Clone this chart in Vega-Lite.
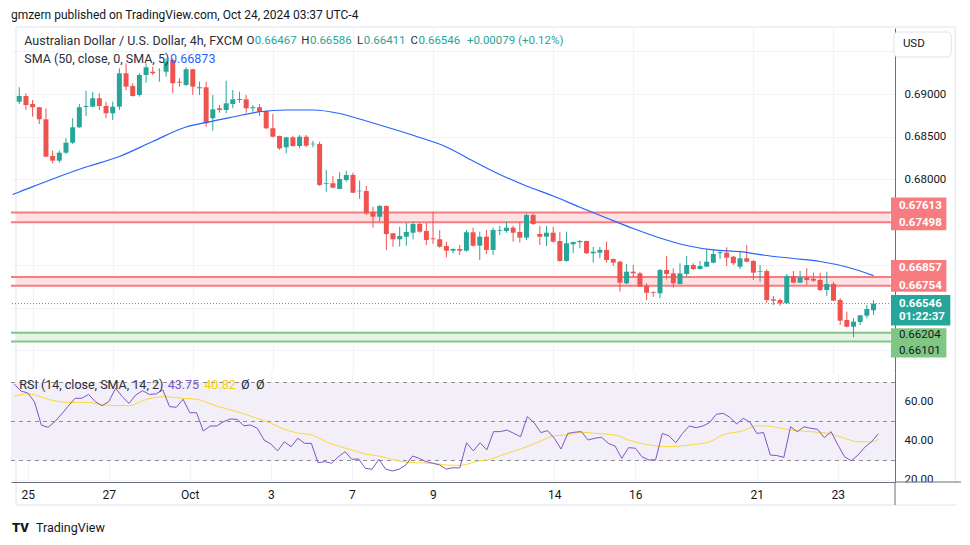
{
"$schema":"https://vega.github.io/schema/vega-lite/v6.json",
"background":"white",
"padding":{"left":10,"top":9,"right":0,"bottom":0},
"title":{"text":"gmzern published on TradingView.com, Oct 24, 2024 03:37 UTC-4","anchor":"start","frame":"group","font":"Roboto","fontSize":12,"fontWeight":"normal","color":"#131722","offset":4},
"config":{"view":{"stroke":null},"font":"Roboto","axis":{"labelFont":"Roboto","labelColor":"#131722","domainColor":"#6b6e78","gridColor":"#f0f3fa","ticks":false,"tickSize":0}},
"spacing":0,
"bounds":"flush",
"datasets":{
"candles":[
{"i":0,"o":0.6891,"h":0.69079,"l":0.68883,"c":0.68977,"rsi":69.2},
{"i":1,"o":0.68977,"h":0.69008,"l":0.68813,"c":0.68871,"rsi":65.6},
{"i":2,"o":0.68883,"h":0.6893,"l":0.68734,"c":0.68845,"rsi":64.6},
{"i":3,"o":0.68845,"h":0.6885,"l":0.68649,"c":0.68704,"rsi":60.0},
{"i":4,"o":0.68704,"h":0.68833,"l":0.6826,"c":0.68266,"rsi":48.2},
{"i":5,"o":0.68274,"h":0.68336,"l":0.68189,"c":0.68219,"rsi":47.0},
{"i":6,"o":0.68219,"h":0.68336,"l":0.68196,"c":0.68313,"rsi":49.9},
{"i":7,"o":0.68313,"h":0.68482,"l":0.68298,"c":0.6843,"rsi":53.8},
{"i":8,"o":0.6843,"h":0.68716,"l":0.68415,"c":0.6861,"rsi":57.9},
{"i":9,"o":0.6861,"h":0.68883,"l":0.68605,"c":0.68845,"rsi":61.9},
{"i":10,"o":0.68848,"h":0.69039,"l":0.68743,"c":0.6886,"rsi":61.9},
{"i":11,"o":0.68852,"h":0.69024,"l":0.68845,"c":0.6895,"rsi":63.9},
{"i":12,"o":0.6895,"h":0.69008,"l":0.68813,"c":0.6886,"rsi":60.2},
{"i":13,"o":0.6886,"h":0.6891,"l":0.68716,"c":0.68774,"rsi":58.1},
{"i":14,"o":0.68774,"h":0.6891,"l":0.68696,"c":0.68852,"rsi":60.2},
{"i":15,"o":0.68852,"h":0.69301,"l":0.68813,"c":0.69243,"rsi":67.0},
{"i":16,"o":0.69243,"h":0.6936,"l":0.69047,"c":0.69086,"rsi":62.7},
{"i":17,"o":0.69094,"h":0.69126,"l":0.68969,"c":0.68977,"rsi":59.3},
{"i":18,"o":0.68989,"h":0.69243,"l":0.68969,"c":0.69223,"rsi":63.6},
{"i":19,"o":0.69223,"h":0.6936,"l":0.69133,"c":0.69313,"rsi":65.8},
{"i":20,"o":0.69261,"h":0.6932,"l":0.69223,"c":0.69243,"rsi":63.9},
{"i":21,"o":0.6927,"h":0.69301,"l":0.69144,"c":0.69273,"rsi":64.1},
{"i":22,"o":0.69261,"h":0.69418,"l":0.69203,"c":0.69378,"rsi":66.2},
{"i":23,"o":0.69398,"h":0.69418,"l":0.69008,"c":0.69126,"rsi":57.6},
{"i":24,"o":0.69144,"h":0.69184,"l":0.69086,"c":0.69133,"rsi":57.3},
{"i":25,"o":0.69106,"h":0.69313,"l":0.69094,"c":0.6929,"rsi":61.4},
{"i":26,"o":0.6929,"h":0.69295,"l":0.68989,"c":0.69086,"rsi":54.5},
{"i":27,"o":0.69067,"h":0.69144,"l":0.68989,"c":0.69079,"rsi":54.5},
{"i":28,"o":0.69079,"h":0.69144,"l":0.68617,"c":0.68657,"rsi":45.1},
{"i":29,"o":0.68716,"h":0.68989,"l":0.68571,"c":0.68821,"rsi":47.7},
{"i":30,"o":0.68833,"h":0.68871,"l":0.68781,"c":0.68813,"rsi":47.7},
{"i":31,"o":0.68813,"h":0.69156,"l":0.68774,"c":0.68891,"rsi":49.9},
{"i":32,"o":0.68883,"h":0.69047,"l":0.68833,"c":0.68938,"rsi":51.3},
{"i":33,"o":0.68942,"h":0.69027,"l":0.68898,"c":0.6893,"rsi":51.1},
{"i":34,"o":0.68938,"h":0.68989,"l":0.68781,"c":0.68833,"rsi":47.8},
{"i":35,"o":0.68833,"h":0.68871,"l":0.68793,"c":0.68845,"rsi":48.2},
{"i":36,"o":0.68845,"h":0.68883,"l":0.68743,"c":0.68793,"rsi":46.5},
{"i":37,"o":0.68801,"h":0.68805,"l":0.68587,"c":0.68599,"rsi":40.5},
{"i":38,"o":0.68599,"h":0.68766,"l":0.68493,"c":0.685,"rsi":38.5},
{"i":39,"o":0.68508,"h":0.68512,"l":0.68345,"c":0.68364,"rsi":34.9},
{"i":40,"o":0.68376,"h":0.685,"l":0.68306,"c":0.68493,"rsi":39.6},
{"i":41,"o":0.68493,"h":0.68508,"l":0.68383,"c":0.68391,"rsi":37.1},
{"i":42,"o":0.68391,"h":0.6852,"l":0.68364,"c":0.685,"rsi":41.4},
{"i":43,"o":0.685,"h":0.6852,"l":0.6838,"c":0.68395,"rsi":38.8},
{"i":44,"o":0.68411,"h":0.6845,"l":0.68376,"c":0.68418,"rsi":38.8},
{"i":45,"o":0.68415,"h":0.68442,"l":0.67923,"c":0.67935,"rsi":28.9},
{"i":46,"o":0.67946,"h":0.6811,"l":0.67856,"c":0.67955,"rsi":29.4},
{"i":47,"o":0.67955,"h":0.6804,"l":0.67896,"c":0.67903,"rsi":28.6},
{"i":48,"o":0.67888,"h":0.68083,"l":0.67885,"c":0.68005,"rsi":31.9},
{"i":49,"o":0.67993,"h":0.68102,"l":0.67973,"c":0.68052,"rsi":34.5},
{"i":50,"o":0.68052,"h":0.68079,"l":0.6784,"c":0.67844,"rsi":30.6},
{"i":51,"o":0.67861,"h":0.67985,"l":0.67771,"c":0.67868,"rsi":30.8},
{"i":52,"o":0.67864,"h":0.67923,"l":0.67583,"c":0.67603,"rsi":26.0},
{"i":53,"o":0.67622,"h":0.67681,"l":0.67435,"c":0.67563,"rsi":25.5},
{"i":54,"o":0.67563,"h":0.677,"l":0.67505,"c":0.67689,"rsi":30.6},
{"i":55,"o":0.67689,"h":0.67695,"l":0.67174,"c":0.67361,"rsi":25.6},
{"i":56,"o":0.67369,"h":0.67372,"l":0.67212,"c":0.67299,"rsi":24.6},
{"i":57,"o":0.67299,"h":0.67446,"l":0.67212,"c":0.67337,"rsi":25.5},
{"i":58,"o":0.67329,"h":0.67493,"l":0.67224,"c":0.67384,"rsi":27.7},
{"i":59,"o":0.67376,"h":0.67505,"l":0.67299,"c":0.67478,"rsi":32.3},
{"i":60,"o":0.67478,"h":0.67493,"l":0.67376,"c":0.67388,"rsi":31.1},
{"i":61,"o":0.67396,"h":0.67493,"l":0.67232,"c":0.67291,"rsi":29.4},
{"i":62,"o":0.6731,"h":0.67622,"l":0.67244,"c":0.67299,"rsi":28.6},
{"i":63,"o":0.67299,"h":0.67408,"l":0.672,"c":0.67212,"rsi":27.7},
{"i":64,"o":0.6722,"h":0.67271,"l":0.67088,"c":0.67165,"rsi":25.6},
{"i":65,"o":0.67165,"h":0.67193,"l":0.67135,"c":0.67185,"rsi":26.3},
{"i":66,"o":0.67185,"h":0.67232,"l":0.67115,"c":0.67165,"rsi":26.2},
{"i":67,"o":0.67165,"h":0.67408,"l":0.67154,"c":0.67381,"rsi":39.1},
{"i":68,"o":0.67381,"h":0.67435,"l":0.67212,"c":0.67224,"rsi":34.9},
{"i":69,"o":0.67224,"h":0.67388,"l":0.67056,"c":0.67329,"rsi":39.1},
{"i":70,"o":0.67329,"h":0.67408,"l":0.67127,"c":0.67174,"rsi":35.4},
{"i":71,"o":0.67174,"h":0.67435,"l":0.67115,"c":0.67408,"rsi":44.8},
{"i":72,"o":0.67399,"h":0.67455,"l":0.67349,"c":0.67408,"rsi":44.8},
{"i":73,"o":0.67396,"h":0.67505,"l":0.67376,"c":0.67435,"rsi":45.6},
{"i":74,"o":0.67435,"h":0.67458,"l":0.67271,"c":0.67376,"rsi":43.9},
{"i":75,"o":0.67384,"h":0.67505,"l":0.67259,"c":0.67318,"rsi":42.2},
{"i":76,"o":0.67318,"h":0.67603,"l":0.67291,"c":0.67583,"rsi":52.5},
{"i":77,"o":0.67583,"h":0.67603,"l":0.67466,"c":0.67478,"rsi":49.4},
{"i":78,"o":0.67361,"h":0.67455,"l":0.67232,"c":0.67329,"rsi":44.3},
{"i":79,"o":0.67329,"h":0.67455,"l":0.6722,"c":0.67376,"rsi":45.3},
{"i":80,"o":0.67376,"h":0.67446,"l":0.67259,"c":0.67271,"rsi":41.4},
{"i":81,"o":0.67279,"h":0.67384,"l":0.67039,"c":0.67045,"rsi":35.9},
{"i":82,"o":0.67045,"h":0.67388,"l":0.67036,"c":0.67252,"rsi":43.9},
{"i":83,"o":0.6724,"h":0.67271,"l":0.67135,"c":0.67267,"rsi":44.5},
{"i":84,"o":0.67264,"h":0.67291,"l":0.67193,"c":0.67279,"rsi":44.8},
{"i":85,"o":0.67279,"h":0.67283,"l":0.67127,"c":0.67135,"rsi":40.5},
{"i":86,"o":0.67135,"h":0.67209,"l":0.67025,"c":0.67154,"rsi":41.4},
{"i":87,"o":0.67142,"h":0.67209,"l":0.67076,"c":0.67174,"rsi":41.9},
{"i":88,"o":0.67174,"h":0.67271,"l":0.67025,"c":0.67056,"rsi":38.8},
{"i":89,"o":0.67068,"h":0.67074,"l":0.66986,"c":0.67025,"rsi":37.4},
{"i":90,"o":0.67036,"h":0.67048,"l":0.66685,"c":0.66791,"rsi":31.1},
{"i":91,"o":0.66784,"h":0.67009,"l":0.66775,"c":0.66919,"rsi":36.6},
{"i":92,"o":0.66919,"h":0.66998,"l":0.66854,"c":0.669,"rsi":36.3},
{"i":93,"o":0.669,"h":0.66919,"l":0.6674,"c":0.66744,"rsi":31.9},
{"i":94,"o":0.66752,"h":0.66784,"l":0.66588,"c":0.66673,"rsi":30.3},
{"i":95,"o":0.66682,"h":0.66688,"l":0.66626,"c":0.66673,"rsi":30.3},
{"i":96,"o":0.66666,"h":0.66951,"l":0.66608,"c":0.66939,"rsi":43.9},
{"i":97,"o":0.66939,"h":0.67103,"l":0.6683,"c":0.66892,"rsi":42.6},
{"i":98,"o":0.669,"h":0.66959,"l":0.66732,"c":0.66784,"rsi":39.1},
{"i":99,"o":0.66775,"h":0.67018,"l":0.6677,"c":0.669,"rsi":43.9},
{"i":100,"o":0.66892,"h":0.67103,"l":0.66869,"c":0.66998,"rsi":47.7},
{"i":101,"o":0.66998,"h":0.67018,"l":0.66939,"c":0.66951,"rsi":46.8},
{"i":102,"o":0.66951,"h":0.67045,"l":0.66945,"c":0.66986,"rsi":47.7},
{"i":103,"o":0.66978,"h":0.67182,"l":0.66974,"c":0.67036,"rsi":49.4},
{"i":104,"o":0.67025,"h":0.67182,"l":0.67018,"c":0.67127,"rsi":53.7},
{"i":105,"o":0.67135,"h":0.67165,"l":0.67068,"c":0.67147,"rsi":54.2},
{"i":106,"o":0.67142,"h":0.67205,"l":0.66986,"c":0.67083,"rsi":52.2},
{"i":107,"o":0.67095,"h":0.67103,"l":0.66998,"c":0.67018,"rsi":48.7},
{"i":108,"o":0.66978,"h":0.67154,"l":0.66951,"c":0.67076,"rsi":51.6},
{"i":109,"o":0.67076,"h":0.67232,"l":0.67033,"c":0.67036,"rsi":49.6},
{"i":110,"o":0.67045,"h":0.67056,"l":0.66822,"c":0.66908,"rsi":43.9},
{"i":111,"o":0.66919,"h":0.66998,"l":0.66802,"c":0.66927,"rsi":44.3},
{"i":112,"o":0.66927,"h":0.66947,"l":0.66556,"c":0.66588,"rsi":32.8},
{"i":113,"o":0.66596,"h":0.66635,"l":0.66529,"c":0.6658,"rsi":32.5},
{"i":114,"o":0.66588,"h":0.66608,"l":0.66521,"c":0.66549,"rsi":31.6},
{"i":115,"o":0.66549,"h":0.66892,"l":0.66547,"c":0.66869,"rsi":47.3},
{"i":116,"o":0.66869,"h":0.66927,"l":0.66787,"c":0.66791,"rsi":44.8},
{"i":117,"o":0.66791,"h":0.66927,"l":0.66787,"c":0.66854,"rsi":47.3},
{"i":118,"o":0.66854,"h":0.66959,"l":0.66764,"c":0.66822,"rsi":46.5},
{"i":119,"o":0.66837,"h":0.66908,"l":0.66799,"c":0.66814,"rsi":46.0},
{"i":120,"o":0.66822,"h":0.66908,"l":0.66693,"c":0.66705,"rsi":41.7},
{"i":121,"o":0.66705,"h":0.66919,"l":0.66635,"c":0.66775,"rsi":44.8},
{"i":122,"o":0.66775,"h":0.66802,"l":0.66577,"c":0.6658,"rsi":38.0},
{"i":123,"o":0.66588,"h":0.66608,"l":0.66295,"c":0.66346,"rsi":31.9},
{"i":124,"o":0.66354,"h":0.66451,"l":0.66268,"c":0.66275,"rsi":29.9},
{"i":125,"o":0.66275,"h":0.66374,"l":0.66151,"c":0.66334,"rsi":32.8},
{"i":126,"o":0.6633,"h":0.66412,"l":0.66295,"c":0.66409,"rsi":36.8},
{"i":127,"o":0.66404,"h":0.66529,"l":0.66374,"c":0.66483,"rsi":39.6},
{"i":128,"o":0.66467,"h":0.66586,"l":0.66411,"c":0.66546,"rsi":43.75}
],
"sma":[{"i":-1,"v":0.67823},{"i":0,"v":0.67853},{"i":5,"v":0.68005},{"i":10,"v":0.68145},{"i":15,"v":0.68268},{"i":20,"v":0.68444},{"i":25,"v":0.68614},{"i":28,"v":0.68667},{"i":32,"v":0.68731},{"i":36,"v":0.68792},{"i":40,"v":0.68813},{"i":44,"v":0.68813},{"i":48,"v":0.68772},{"i":52,"v":0.68684},{"i":56,"v":0.6859},{"i":60,"v":0.68491},{"i":64,"v":0.6838},{"i":68,"v":0.68216},{"i":72,"v":0.68058},{"i":76,"v":0.67923},{"i":80,"v":0.67806},{"i":84,"v":0.67674},{"i":88,"v":0.67548},{"i":92,"v":0.67425},{"i":96,"v":0.67314},{"i":100,"v":0.67226},{"i":104,"v":0.67174},{"i":108,"v":0.67154},{"i":112,"v":0.67109},{"i":116,"v":0.67074},{"i":120,"v":0.67039},{"i":124,"v":0.66974},{"i":128,"v":0.66873}],
"rma":[{"i":0,"v":63.1},{"i":2,"v":64.1},{"i":3,"v":63.6},{"i":5,"v":61.4},{"i":8,"v":59.8},{"i":11,"v":59.8},{"i":13,"v":58.5},{"i":17,"v":58.1},{"i":19,"v":60.7},{"i":22,"v":62.7},{"i":25,"v":61.9},{"i":27,"v":61.4},{"i":30,"v":57.9},{"i":33,"v":55.0},{"i":36,"v":51.6},{"i":38,"v":49.1},{"i":40,"v":46.0},{"i":42,"v":44.1},{"i":44,"v":43.1},{"i":47,"v":38.5},{"i":50,"v":35.4},{"i":52,"v":33.3},{"i":54,"v":32.3},{"i":57,"v":29.7},{"i":59,"v":28.9},{"i":62,"v":28.6},{"i":64,"v":27.7},{"i":66,"v":27.5},{"i":69,"v":29.9},{"i":70,"v":30.3},{"i":73,"v":33.7},{"i":75,"v":35.9},{"i":78,"v":40.0},{"i":80,"v":42.7},{"i":82,"v":43.1},{"i":84,"v":44.5},{"i":86,"v":43.9},{"i":89,"v":43.1},{"i":91,"v":40.5},{"i":94,"v":38.0},{"i":97,"v":37.1},{"i":100,"v":38.0},{"i":103,"v":39.6},{"i":105,"v":43.1},{"i":108,"v":45.3},{"i":110,"v":47.8},{"i":111,"v":47.8},{"i":113,"v":47.0},{"i":115,"v":45.6},{"i":118,"v":44.8},{"i":121,"v":43.6},{"i":123,"v":41.4},{"i":125,"v":39.6},{"i":127,"v":39.6},{"i":128,"v":40.82}],
"levels":[{"top":0.67613,"bot":0.67498,"kind":"res"},{"top":0.66857,"bot":0.66754,"kind":"res"},{"top":0.66204,"bot":0.66101,"kind":"sup"}]
},
"vconcat":[
{
"width":884,"height":345,
"layer":[
{"data":{"values":[{}]},"mark":{"type":"rect","filled":false,"color":"#e0e3eb","strokeWidth":1,"clip":false},"encoding":{"x":{"datum":-0.49},"x2":{"datum":140.25},"y":{"datum":0.69785},"y2":{"datum":0.64187}}},
{"data":{"name":"levels"},"mark":{"type":"rect"},"encoding":{"x":{"datum":-0.49},"x2":{"datum":130.47},"y":{"field":"top","type":"quantitative"},"y2":{"field":"bot"},"color":{"condition":{"test":"datum.kind=='res'","value":"#fde1e3"},"value":"#e6f4e7"}}},
{"data":{"name":"levels"},"mark":{"type":"rule","strokeWidth":2},"encoding":{"y":{"field":"top","type":"quantitative"},"color":{"condition":{"test":"datum.kind=='res'","value":"#f77c80"},"value":"#81c784"}}},
{"data":{"name":"levels"},"mark":{"type":"rule","strokeWidth":2},"encoding":{"y":{"field":"bot","type":"quantitative"},"color":{"condition":{"test":"datum.kind=='res'","value":"#f77c80"},"value":"#81c784"}}},
{"data":{"values":[{"p":0.66546}]},"mark":{"type":"rule","strokeDash":[1,2],"color":"#26a69a","strokeWidth":1},"encoding":{"y":{"field":"p","type":"quantitative"}}},
{"data":{"name":"candles"},"mark":{"type":"rule","strokeWidth":1},"encoding":{"x":{"field":"i","type":"quantitative"},"y":{"field":"l","type":"quantitative"},"y2":{"field":"h"},"color":{"condition":{"test":"datum.c >= datum.o","value":"#26a69a"},"value":"#ef5350"}}},
{"data":{"name":"candles"},"mark":{"type":"bar","width":5},"encoding":{
"x":{"field":"i","type":"quantitative","scale":{"domain":[-0.49,130.47],"nice":false,"zero":false},"axis":{"values":[2,14,26,38,50,62,80,92,110,122],"grid":true,"labels":false,"domain":false,"title":null}},
"y":{"field":"o","type":"quantitative","scale":{"domain":[0.65733,0.69773],"nice":false,"zero":false},"axis":{"orient":"right","values":[0.66,0.665,0.67,0.675,0.68,0.685,0.69,0.695],"labelExpr":"(datum.value > 0.6799 && datum.value < 0.6901) ? format(datum.value, '.5f') : ''","grid":true,"labelPadding":9,"labelFontSize":11.5,"labelColor":"#131722","title":null}},
"y2":{"field":"c"},
"color":{"condition":{"test":"datum.c >= datum.o","value":"#26a69a"},"value":"#ef5350"}}},
{"data":{"name":"sma"},"mark":{"type":"line","color":"#2962ff","strokeWidth":1.2,"interpolate":"monotone","clip":true},"encoding":{"x":{"field":"i","type":"quantitative"},"y":{"field":"v","type":"quantitative"}}},
{"data":{"values":[{}]},"mark":{"type":"rect","fill":"white","stroke":"#e0e3eb","cornerRadius":4,"clip":false},"encoding":{"x":{"datum":131.06},"x2":{"datum":139.65},"y":{"datum":0.69726},"y2":{"datum":0.69434}}},
{"data":{"values":[{}]},"mark":{"type":"text","align":"left","baseline":"middle","fontSize":11.5,"color":"#131722","clip":false},"encoding":{"x":{"datum":132.4},"y":{"datum":0.69586},"text":{"value":"USD"}}},
{"data":{"values":[{}]},"mark":{"type":"rect","color":"#f77c80","yOffset":-15,"y2Offset":8,"clip":false},"encoding":{"x":{"datum":130.62},"x2":{"datum":138.92},"y":{"datum":0.67613},"y2":{"datum":0.67498}}},
{"data":{"values":[{}]},"mark":{"type":"rect","color":"#f77c80","yOffset":-17,"y2Offset":6,"clip":false},"encoding":{"x":{"datum":130.62},"x2":{"datum":138.92},"y":{"datum":0.66857},"y2":{"datum":0.66754}}},
{"data":{"values":[{}]},"mark":{"type":"rect","color":"#26a69a","yOffset":-8.6,"y2Offset":22,"clip":false},"encoding":{"x":{"datum":130.62},"x2":{"datum":139.51},"y":{"datum":0.66546},"y2":{"datum":0.66546}}},
{"data":{"values":[{}]},"mark":{"type":"rect","color":"#81c784","yOffset":-4.6,"y2Offset":16,"clip":false},"encoding":{"x":{"datum":130.62},"x2":{"datum":138.92},"y":{"datum":0.66204},"y2":{"datum":0.66101}}},
{"data":{"values":[{}]},"mark":{"type":"text","align":"left","baseline":"middle","fontSize":11.5,"fontWeight":"bold","color":"white","dy":-6.7,"clip":false},"encoding":{"x":{"datum":131.8},"y":{"datum":0.67613},"text":{"value":"0.67613"}}},
{"data":{"values":[{}]},"mark":{"type":"text","align":"left","baseline":"middle","fontSize":11.5,"fontWeight":"bold","color":"white","dy":0.4,"clip":false},"encoding":{"x":{"datum":131.8},"y":{"datum":0.67498},"text":{"value":"0.67498"}}},
{"data":{"values":[{}]},"mark":{"type":"text","align":"left","baseline":"middle","fontSize":11.5,"fontWeight":"bold","color":"white","dy":-8.8,"clip":false},"encoding":{"x":{"datum":131.8},"y":{"datum":0.66857},"text":{"value":"0.66857"}}},
{"data":{"values":[{}]},"mark":{"type":"text","align":"left","baseline":"middle","fontSize":11.5,"fontWeight":"bold","color":"white","dy":0,"clip":false},"encoding":{"x":{"datum":131.8},"y":{"datum":0.66754},"text":{"value":"0.66754"}}},
{"data":{"values":[{}]},"mark":{"type":"text","align":"left","baseline":"middle","fontSize":11.5,"fontWeight":"bold","color":"white","dy":0,"clip":false},"encoding":{"x":{"datum":131.8},"y":{"datum":0.66546},"text":{"value":"0.66546"}}},
{"data":{"values":[{}]},"mark":{"type":"text","align":"left","baseline":"middle","fontSize":11.5,"fontWeight":"bold","color":"white","dy":13,"clip":false},"encoding":{"x":{"datum":131.8},"y":{"datum":0.66546},"text":{"value":"01:22:37"}}},
{"data":{"values":[{}]},"mark":{"type":"text","align":"left","baseline":"middle","fontSize":11.5,"color":"#131722","dy":2,"clip":false},"encoding":{"x":{"datum":131.8},"y":{"datum":0.66204},"text":{"value":"0.66204"}}},
{"data":{"values":[{}]},"mark":{"type":"text","align":"left","baseline":"middle","fontSize":11.5,"color":"#131722","dy":9.5,"clip":false},"encoding":{"x":{"datum":131.8},"y":{"datum":0.66101},"text":{"value":"0.66101"}}},
{"data":{"values":[{}]},"mark":{"type":"text","align":"left","baseline":"middle","fontSize":12.5,"color":"#2a2e39"},"encoding":{"x":{"datum":0.74},"y":{"datum":0.69615},"text":{"value":"Australian Dollar / U.S. Dollar, 4h, FXCM"}}},
{"data":{"values":[{}]},"mark":{"type":"text","align":"left","baseline":"middle","fontSize":11.5,"color":"#2a2e39"},"encoding":{"x":{"datum":34.03},"y":{"datum":0.69615},"text":{"value":"O"}}},
{"data":{"values":[{}]},"mark":{"type":"text","align":"left","baseline":"middle","fontSize":11.5,"color":"#26a69a"},"encoding":{"x":{"datum":35.29},"y":{"datum":0.69615},"text":{"value":"0.66467"}}},
{"data":{"values":[{}]},"mark":{"type":"text","align":"left","baseline":"middle","fontSize":11.5,"color":"#2a2e39"},"encoding":{"x":{"datum":42.25},"y":{"datum":0.69615},"text":{"value":"H"}}},
{"data":{"values":[{}]},"mark":{"type":"text","align":"left","baseline":"middle","fontSize":11.5,"color":"#26a69a"},"encoding":{"x":{"datum":43.55},"y":{"datum":0.69615},"text":{"value":"0.66586"}}},
{"data":{"values":[{}]},"mark":{"type":"text","align":"left","baseline":"middle","fontSize":11.5,"color":"#2a2e39"},"encoding":{"x":{"datum":50.62},"y":{"datum":0.69615},"text":{"value":"L"}}},
{"data":{"values":[{}]},"mark":{"type":"text","align":"left","baseline":"middle","fontSize":11.5,"color":"#26a69a"},"encoding":{"x":{"datum":51.61},"y":{"datum":0.69615},"text":{"value":"0.66411"}}},
{"data":{"values":[{}]},"mark":{"type":"text","align":"left","baseline":"middle","fontSize":11.5,"color":"#2a2e39"},"encoding":{"x":{"datum":58.62},"y":{"datum":0.69615},"text":{"value":"C"}}},
{"data":{"values":[{}]},"mark":{"type":"text","align":"left","baseline":"middle","fontSize":11.5,"color":"#26a69a"},"encoding":{"x":{"datum":59.81},"y":{"datum":0.69615},"text":{"value":"0.66546"}}},
{"data":{"values":[{}]},"mark":{"type":"text","align":"left","baseline":"middle","fontSize":11.5,"color":"#26a69a"},"encoding":{"x":{"datum":67.07},"y":{"datum":0.69615},"text":{"value":"+0.00079 (+0.12%)"}}},
{"data":{"values":[{}]},"mark":{"type":"text","align":"left","baseline":"middle","fontSize":12.5,"color":"#2a2e39"},"encoding":{"x":{"datum":0.74},"y":{"datum":0.69408},"text":{"value":"SMA (50, close, 0, SMA, 5)"}}},
{"data":{"values":[{}]},"mark":{"type":"text","align":"left","baseline":"middle","fontSize":12.5,"color":"#2962ff"},"encoding":{"x":{"datum":22.58},"y":{"datum":0.69408},"text":{"value":"0.66873"}}}
]
},
{
"width":884,"height":109,
"layer":[
{"data":{"values":[{}]},"mark":{"type":"rect","color":"#f2eff9"},"encoding":{"x":{"datum":-0.49},"x2":{"datum":130.47},"y":{"datum":70},"y2":{"datum":30}}},
{"data":{"values":[{"v":70},{"v":50},{"v":30}]},"mark":{"type":"rule","color":"#8a8d96","strokeDash":[4,4],"strokeWidth":1},"encoding":{"y":{"field":"v","type":"quantitative"}}},
{"data":{"name":"rma"},"mark":{"type":"line","color":"#fdd835","strokeWidth":1,"interpolate":"monotone"},"encoding":{"x":{"field":"i","type":"quantitative"},"y":{"field":"v","type":"quantitative"}}},
{"data":{"name":"candles"},"mark":{"type":"line","color":"#7e57c2","strokeWidth":1},"encoding":{
"x":{"field":"i","type":"quantitative","scale":{"domain":[-0.49,130.47],"nice":false,"zero":false},"axis":{"values":[2,14,26,38,50,62,80,92,110,122],"labelExpr":"datum.value==2?'25':datum.value==14?'27':datum.value==26?'Oct':datum.value==38?'3':datum.value==50?'7':datum.value==62?'9':datum.value==80?'14':datum.value==92?'16':datum.value==110?'21':datum.value==122?'23':''","grid":true,"labelPadding":7,"labelFontSize":12,"labelColor":"#131722","title":null}},
"y":{"field":"rsi","type":"quantitative","scale":{"domain":[18.97,74.87],"nice":false,"zero":false},"axis":{"orient":"right","values":[20,40,60],"format":".2f","grid":true,"labelPadding":9,"labelFontSize":11.5,"labelColor":"#131722","title":null}}}},
{"data":{"values":[{}]},"mark":{"type":"rect","color":"white","clip":false},"encoding":{"x":{"datum":130.6},"x2":{"datum":140.2},"y":{"datum":18.9},"y2":{"datum":7.5}}},
{"data":{"values":[{}]},"mark":{"type":"rule","color":"#6b6e78","clip":false},"encoding":{"x":{"datum":130.47},"x2":{"datum":140.25},"y":{"datum":18.97}}},
{"data":{"values":[{}]},"mark":{"type":"rule","color":"#6b6e78","clip":false},"encoding":{"x":{"datum":130.47},"y":{"datum":18.97},"y2":{"datum":7.18}}},
{"data":{"values":[{}]},"mark":{"type":"text","align":"left","baseline":"middle","fontSize":12.5,"color":"#2a2e39"},"encoding":{"x":{"datum":0.74},"y":{"datum":68.56},"text":{"value":"RSI (14, close, SMA, 14, 2)"}}},
{"data":{"values":[{}]},"mark":{"type":"text","align":"left","baseline":"middle","fontSize":12.5,"color":"#7e57c2"},"encoding":{"x":{"datum":22.72},"y":{"datum":68.56},"text":{"value":"43.75"}}},
{"data":{"values":[{}]},"mark":{"type":"text","align":"left","baseline":"middle","fontSize":12.5,"color":"#f5d000"},"encoding":{"x":{"datum":28.15},"y":{"datum":68.56},"text":{"value":"40.82"}}},
{"data":{"values":[{}]},"mark":{"type":"text","align":"left","baseline":"middle","fontSize":12.5,"color":"#2a2e39"},"encoding":{"x":{"datum":33.58},"y":{"datum":68.56},"text":{"value":"Ø"}}},
{"data":{"values":[{}]},"mark":{"type":"text","align":"left","baseline":"middle","fontSize":12.5,"color":"#2a2e39"},"encoding":{"x":{"datum":35.81},"y":{"datum":68.56},"text":{"value":"Ø"}}},
{"data":{"values":[{}]},"mark":{"type":"text","align":"left","baseline":"middle","fontSize":13,"fontWeight":900,"color":"#131722","clip":false},"encoding":{"x":{"datum":-0.34},"y":{"datum":-4.6},"text":{"value":"TV"}}},
{"data":{"values":[{}]},"mark":{"type":"text","align":"left","baseline":"middle","fontSize":12.5,"color":"#131722","clip":false},"encoding":{"x":{"datum":3.21},"y":{"datum":-4.6},"text":{"value":"TradingView"}}}
]
}
]
}
